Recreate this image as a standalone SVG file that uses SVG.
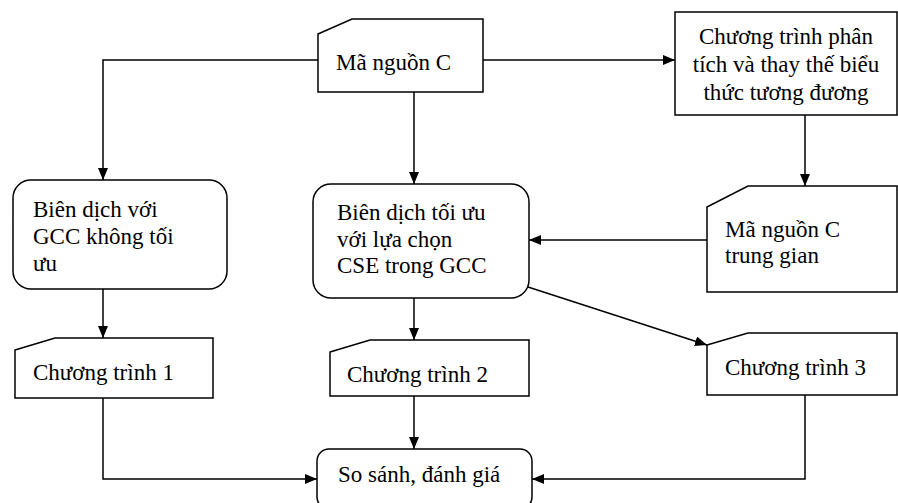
<svg xmlns="http://www.w3.org/2000/svg" width="898" height="503" viewBox="0 0 898 503">
<style>
.box{fill:#fff;stroke:#000;stroke-width:1.5}
.ln{fill:none;stroke:#000;stroke-width:1.5;marker-end:url(#ah)}
text{font-family:"Liberation Serif","Times New Roman",serif;font-size:23px;fill:#000}
</style>
<defs>
<marker id="ah" viewBox="0 0 12 10" refX="12" refY="5" markerWidth="12" markerHeight="10" markerUnits="userSpaceOnUse" orient="auto">
<path d="M0,0 L12,5 L0,10 Z" fill="#000"/>
</marker>
</defs>
<rect width="898" height="503" fill="#fff"/>
<g id="connectors">
<path class="ln" d="M318,60 H103 V180"/>
<path class="ln" d="M483,60 H675"/>
<path class="ln" d="M414,92 V184"/>
<path class="ln" d="M805,115 V186"/>
<path class="ln" d="M707,240 H529"/>
<path class="ln" d="M103,289 V338"/>
<path class="ln" d="M414,298 V340"/>
<path class="ln" d="M528,287 L707,345"/>
<path class="ln" d="M103,398 V479 H317"/>
<path class="ln" d="M414,396 V449"/>
<path class="ln" d="M805,395 V479 H532"/>
</g>
<g id="n1"><path class="box" d="M318,34 L352,19 H483 V92 H318 Z"/><text x="336" y="70">Mã nguồn C</text></g>
<g id="n2"><rect class="box" x="675" y="12" width="222" height="103"/>
<text x="786" text-anchor="middle"><tspan x="786" y="44">Chương trình phân</tspan><tspan x="786" y="72">tích và thay thế biểu</tspan><tspan x="786" y="100">thức tương đương</tspan></text></g>
<g id="n3"><rect class="box" x="13" y="180" width="214" height="109" rx="18"/>
<text><tspan x="33" y="217">Biên dịch với</tspan><tspan x="33" y="244">GCC không tối</tspan><tspan x="33" y="271">ưu</tspan></text></g>
<g id="n4"><rect class="box" x="313" y="184" width="216" height="114" rx="18"/>
<text><tspan x="337" y="220">Biên dịch tối ưu</tspan><tspan x="337" y="247">với lựa chọn</tspan><tspan x="337" y="273">CSE trong GCC</tspan></text></g>
<g id="n5"><path class="box" d="M707,207 L748,186 H897 V292 H707 Z"/>
<text><tspan x="725" y="237">Mã nguồn C</tspan><tspan x="725" y="263">trung gian</tspan></text></g>
<g id="n6"><path class="box" d="M15,350 L55,338 H213 V398 H15 Z"/><text x="33" y="380">Chương trình 1</text></g>
<g id="n7"><path class="box" d="M330,352 L370,340 H529 V396 H330 Z"/><text x="347" y="382">Chương trình 2</text></g>
<g id="n8"><path class="box" d="M707,345 L748,333 H897 V395 H707 Z"/><text x="725" y="375">Chương trình 3</text></g>
<g id="n9"><rect class="box" x="317" y="449" width="215" height="60" rx="12"/><text x="338" y="482">So sánh, đánh giá</text></g>
</svg>
